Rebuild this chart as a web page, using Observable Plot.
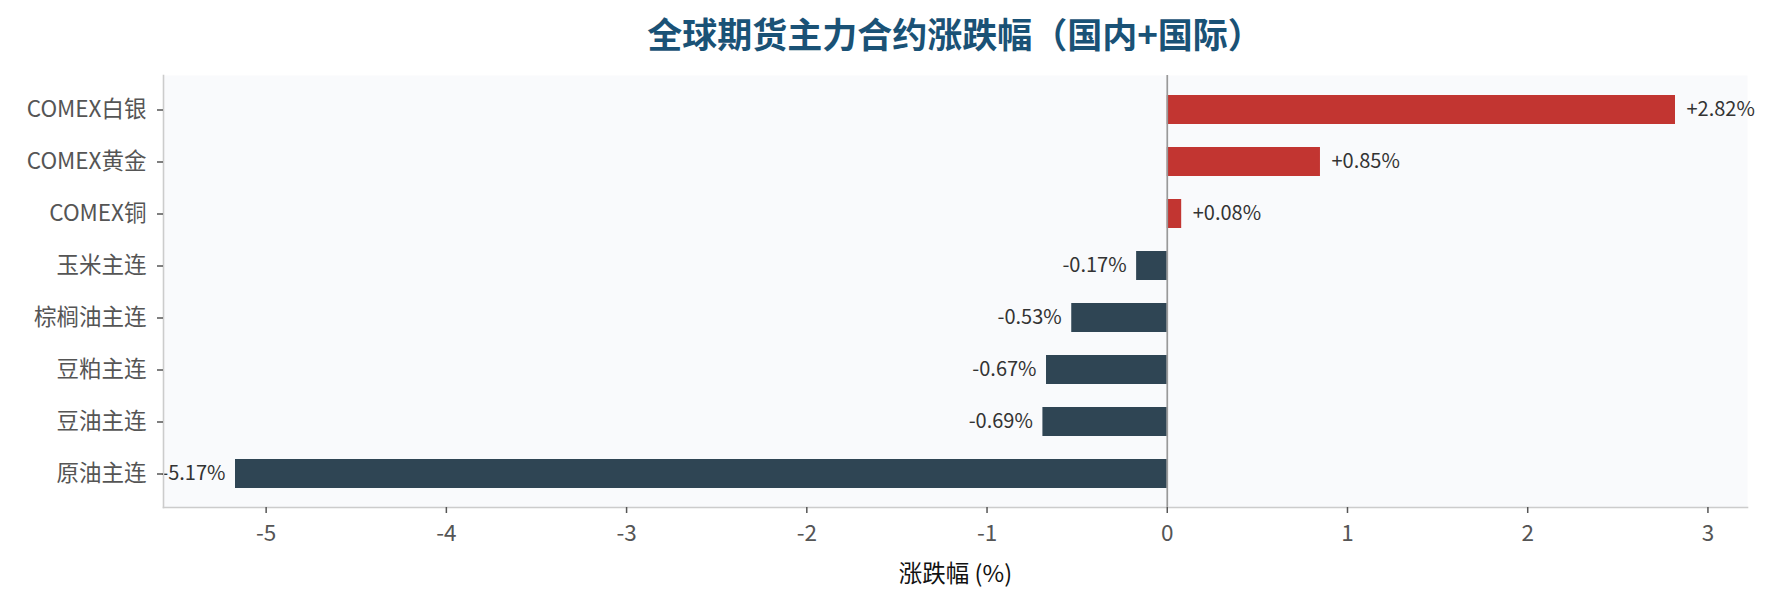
<!DOCTYPE html>
<html>
<head>
<meta charset="utf-8">
<script src="https://cdn.jsdelivr.net/npm/d3@7"></script>
<script src="https://cdn.jsdelivr.net/npm/@observablehq/plot@0.6"></script>
<style>
  html, body { margin: 0; padding: 0; background: #ffffff; }
  #wrap { width: 1773px; height: 604px; overflow: hidden; }
  #title {
    margin-left: 163px; width: 1584px; height: 66px; line-height: 66px;
    text-align: center; font-family: "Noto Sans CJK SC", sans-serif;
    font-weight: 700; font-size: 35px; color: #1a5276;
  }
  svg text { font-family: "Noto Sans CJK SC", sans-serif; }
</style>
</head>
<body>
<div id="wrap">
  <div id="title">全球期货主力合约涨跌幅（国内+国际）</div>
  <div id="chart"></div>
</div>
<script>
const names = ["COMEX白银", "COMEX黄金", "COMEX铜", "玉米主连", "棕榈油主连", "豆粕主连", "豆油主连", "原油主连"];
const values = [2.82, 0.85, 0.08, -0.17, -0.53, -0.67, -0.69, -5.17];
const xTicks = [-5, -4, -3, -2, -1, 0, 1, 2, 3];
const xLabel = "涨跌幅 (%)";

const data = names.map((n, i) => ({name: n, value: values[i], label: (values[i] > 0 ? "+" : "") + values[i].toFixed(2) + "%"}));
const pos = data.filter(d => d.value >= 0);
const neg = data.filter(d => d.value < 0);

const vmin = d3.min(values), vmax = d3.max(values);
const pad = (vmax - vmin) * 0.05;

const chart = Plot.plot({
  width: 1773,
  height: 538,
  marginTop: 9,
  marginBottom: 97,
  marginLeft: 163,
  marginRight: 26,
  style: {background: "transparent", fontFamily: "Noto Sans CJK SC, sans-serif"},
  x: {domain: [vmin - pad, vmax + pad]},
  y: {domain: names, paddingInner: 0.45, paddingOuter: 0.3775},
  marks: [
    Plot.frame({fill: "#f9fafc", stroke: null}),
    Plot.barX(data, {x: "value", y: "name", fill: d => d.value >= 0 ? "#c23531" : "#2f4554"}),
    Plot.ruleX([0], {stroke: "#999999", strokeWidth: 1.7}),
    Plot.text(pos, {x: "value", y: "name", text: "label", textAnchor: "start", dx: 11, fill: "#333333", fontSize: 20}),
    Plot.text(neg, {x: "value", y: "name", text: "label", textAnchor: "end", dx: -10, fill: "#333333", fontSize: 20}),
    Plot.frame({anchor: "left", stroke: "#cccccc", strokeWidth: 1.6}),
    Plot.frame({anchor: "bottom", stroke: "#cccccc", strokeWidth: 1.6}),
    Plot.axisY({label: null, tickSize: 6, tickPadding: 11, fontSize: 22.5, color: "#555555", stroke: "#555555", strokeWidth: 1.5}),
    Plot.axisX({ticks: xTicks, label: null, tickSize: 6, tickPadding: 12, fontSize: 22.5, color: "#555555", stroke: "#555555", strokeWidth: 1.5, tickFormat: d => String(d).replace("−", "-")}),
    Plot.text([xLabel], {frameAnchor: "bottom", dy: 74, fontSize: 23.5, fill: "#111111"})
  ]
});
document.getElementById("chart").appendChild(chart);
</script>
</body>
</html>
